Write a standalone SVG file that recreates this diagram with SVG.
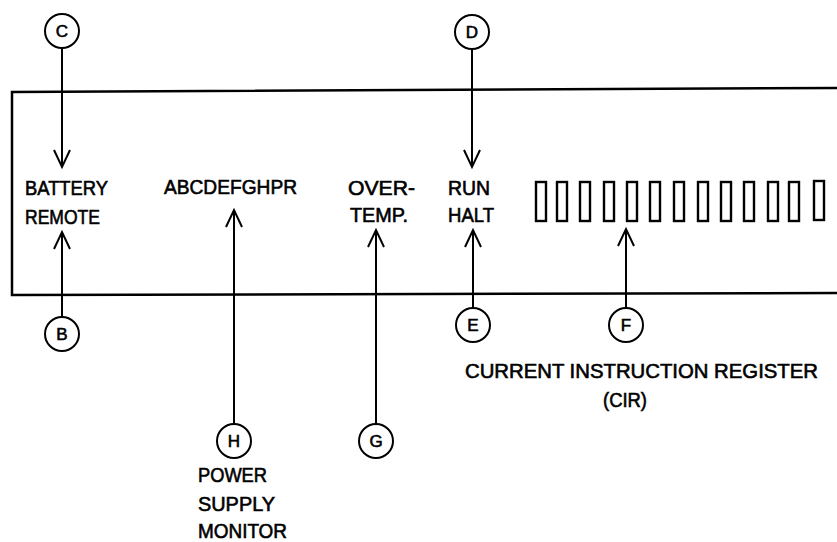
<svg xmlns="http://www.w3.org/2000/svg" width="837" height="542" viewBox="0 0 837 542">
<style>
  .ln { stroke:#000; stroke-width:2; fill:none; }
  .box { stroke:#000; stroke-width:2.5; fill:none; }
  .cir { stroke:#000; stroke-width:2; fill:#fff; }
  .cl { font-family:"Liberation Sans", Arial, sans-serif; font-size:17px; text-anchor:middle; fill:#000; stroke:#000; stroke-width:0.6; }
  .t { font-family:"Liberation Sans", Arial, sans-serif; font-size:20px; fill:#000; stroke:#000; stroke-width:0.6; }
  .reg { stroke:#000; stroke-width:2.4; fill:none; }
</style>
<defs>
  <marker id="arr" markerUnits="userSpaceOnUse" markerWidth="24" markerHeight="24" viewBox="-20 -12 24 24" refX="0" refY="0" orient="auto" overflow="visible">
    <path d="M-17,-8 L0,0 L-17,8" stroke="#000" stroke-width="2" fill="none"/>
  </marker>
</defs>
<rect width="837" height="542" fill="#fff"/>

<g id="panel">
  <path class="box" d="M837,88 L12,92 L12,295 L837,293"/>
</g>

<g id="register">
  <rect class="reg" x="536" y="182" width="10" height="39"/>
  <rect class="reg" x="557" y="182" width="10" height="39"/>
  <rect class="reg" x="580" y="182" width="10" height="39"/>
  <rect class="reg" x="604" y="182" width="10" height="39"/>
  <rect class="reg" x="627" y="182" width="10" height="39"/>
  <rect class="reg" x="650" y="182" width="10" height="39"/>
  <rect class="reg" x="674" y="182" width="10" height="39"/>
  <rect class="reg" x="698" y="182" width="10" height="39"/>
  <rect class="reg" x="721" y="182" width="10" height="39"/>
  <rect class="reg" x="744" y="182" width="10" height="39"/>
  <rect class="reg" x="768" y="182" width="10" height="39"/>
  <rect class="reg" x="789" y="182" width="10" height="39"/>
  <rect class="reg" x="814" y="181" width="10" height="39"/>
</g>

<g id="labels">
  <text class="t" x="25" y="195" textLength="83" lengthAdjust="spacingAndGlyphs">BATTERY</text>
  <text class="t" x="25" y="224" textLength="75" lengthAdjust="spacingAndGlyphs">REMOTE</text>
  <text class="t" x="164" y="194" textLength="133" lengthAdjust="spacingAndGlyphs">ABCDEFGHPR</text>
  <text class="t" x="348" y="195" textLength="67" lengthAdjust="spacingAndGlyphs">OVER-</text>
  <text class="t" x="350" y="222" textLength="58" lengthAdjust="spacingAndGlyphs">TEMP.</text>
  <text class="t" x="448" y="195" textLength="42" lengthAdjust="spacingAndGlyphs">RUN</text>
  <text class="t" x="448" y="222" textLength="46" lengthAdjust="spacingAndGlyphs">HALT</text>
  <text class="t" x="465" y="378" textLength="353" lengthAdjust="spacingAndGlyphs">CURRENT INSTRUCTION REGISTER</text>
  <text class="t" x="603" y="407" textLength="44" lengthAdjust="spacingAndGlyphs">(CIR)</text>
  <text class="t" x="198" y="482" textLength="69" lengthAdjust="spacingAndGlyphs">POWER</text>
  <text class="t" x="198" y="511" textLength="77" lengthAdjust="spacingAndGlyphs">SUPPLY</text>
  <text class="t" x="198" y="538" textLength="89" lengthAdjust="spacingAndGlyphs">MONITOR</text>
</g>

<g id="connectors">
  <line class="ln" x1="62" y1="48" x2="62" y2="167" marker-end="url(#arr)"/>
  <line class="ln" x1="472" y1="49" x2="472" y2="167" marker-end="url(#arr)"/>
  <line class="ln" x1="62" y1="317" x2="62" y2="232" marker-end="url(#arr)"/>
  <line class="ln" x1="234" y1="424" x2="234" y2="210" marker-end="url(#arr)"/>
  <line class="ln" x1="376" y1="424" x2="376" y2="230" marker-end="url(#arr)"/>
  <line class="ln" x1="473" y1="308" x2="473" y2="230" marker-end="url(#arr)"/>
  <line class="ln" x1="626" y1="308" x2="626" y2="229" marker-end="url(#arr)"/>
</g>

<g id="node-C"><circle class="cir" cx="62" cy="31" r="17"/><text class="cl" x="62" y="37">C</text></g>
<g id="node-D"><circle class="cir" cx="472" cy="32" r="17"/><text class="cl" x="472" y="38">D</text></g>
<g id="node-B"><circle class="cir" cx="62" cy="334" r="17"/><text class="cl" x="62" y="340">B</text></g>
<g id="node-E"><circle class="cir" cx="473" cy="325" r="17"/><text class="cl" x="473" y="331">E</text></g>
<g id="node-F"><circle class="cir" cx="626" cy="325" r="17"/><text class="cl" x="626" y="331">F</text></g>
<g id="node-H"><circle class="cir" cx="234" cy="441" r="17"/><text class="cl" x="234" y="447">H</text></g>
<g id="node-G"><circle class="cir" cx="376" cy="441" r="17"/><text class="cl" x="376" y="447">G</text></g>
</svg>
